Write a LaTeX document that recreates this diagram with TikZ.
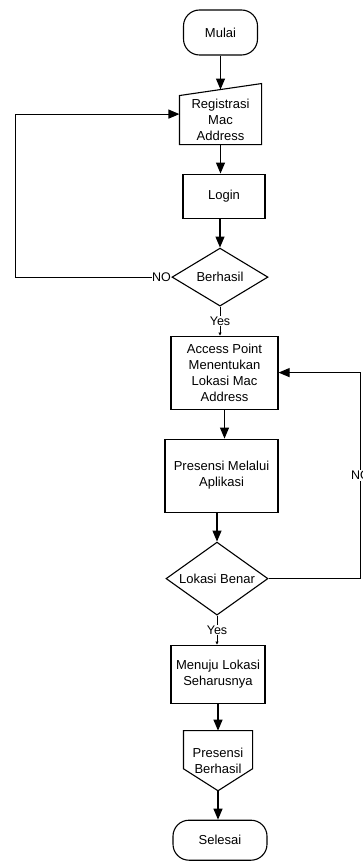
\documentclass[tikz,border=0pt]{standalone}
\usepackage{fontspec}
\setmainfont{Liberation Sans}
\usepackage{tikz}
\usetikzlibrary{positioning,arrows.meta,shapes.geometric}

\begin{document}
\begin{tikzpicture}[node distance=28.9pt,line width=1.1pt,
    font=\fontsize{13}{16}\selectfont]
  \tikzstyle{terminal}=[draw,rectangle,rounded corners=16pt,align=center]
  \tikzstyle{process}=[draw,rectangle,align=center,inner sep=2pt]
  \tikzstyle{decision}=[draw,diamond,aspect=1.4,inner sep=0pt,align=center]
  \tikzstyle{outline}=[rectangle,align=center,inner sep=0pt]
  \tikzstyle{flow}=[-{Triangle[length=11pt,width=9pt]}]
  \tikzstyle{answer}=[line width=0.8pt,-{Triangle[length=3pt,width=3pt]}]
  \tikzstyle{tag}=[fill=white,inner sep=1pt,font=\fontsize{12.5}{14}\selectfont]
  \useasboundingbox (0,0) rectangle (362pt,-861pt);

  \node[terminal,minimum width=74pt,minimum height=45pt] (mulai) at (220.5pt,-32.5pt) {Mulai};
  \node[outline,minimum width=81pt,minimum height=48pt] (reg) [below=40pt of mulai] {Registrasi\\Mac\\Address};
  \node[process,minimum width=82pt,minimum height=44pt] (login) [below=of reg,xshift=3.5pt] {Login};
  \node[decision,minimum width=96pt,minimum height=58pt] (berhasil) [below=of login,xshift=-4pt] {Berhasil};
  \node[process,minimum width=107pt,minimum height=73pt] (ap) [below=of berhasil,xshift=4.5pt] {Access Point\\Menentukan\\Lokasi Mac\\Address};
  \node[process,minimum width=113pt,minimum height=73pt] (presensi) [below=of ap,xshift=-3pt] {Presensi Melalui\\Aplikasi};
  \node[decision,minimum width=102pt,minimum height=73pt] (lokasi) [below=of presensi,xshift=-4.5pt] {Lokasi Benar};
  \node[process,minimum width=94pt,minimum height=58pt] (menuju) [below=of lokasi,xshift=1pt] {Menuju Lokasi\\Seharusnya};
  \node[outline,minimum width=68pt,minimum height=59pt] (pb) [below=27pt of menuju] {Presensi\\Berhasil};
  \node[terminal,minimum width=94pt,minimum height=40pt] (selesai) [below=of pb,xshift=2pt] {Selesai};

  % manual input and off-page outlines
  \draw (reg.south west) -- (reg.south east) -- ([yshift=12pt]reg.north east) -- (reg.north west) -- cycle;
  \draw (pb.north west) -- (pb.north east) -- ([yshift=22pt]pb.south east) -- (pb.south)
    -- ([yshift=22pt]pb.south west) -- cycle;

  \draw[flow] (mulai.south) -- ([yshift=6pt]reg.north);
  \draw[flow] (reg.south) -- (reg.south |- login.north);
  \draw[flow] (berhasil.north |- login.south) -- (berhasil.north);
  \draw[answer] (berhasil.south) -- node[tag] {Yes} (berhasil.south |- ap.north);
  \draw[flow] (ap.south) -- (ap.south |- presensi.north);
  \draw[flow] (lokasi.north |- presensi.south) -- (lokasi.north);
  \draw[answer] (lokasi.south) -- node[tag] {Yes} (lokasi.south |- menuju.north);
  \draw[flow] (menuju.south) -- (menuju.south |- pb.north);
  \draw[flow] (pb.south) -- (pb.south |- selesai.north);

  \draw[flow] (berhasil.west) -- node[tag,pos=0,anchor=east,inner sep=0pt] {NO} ++(-156pt,0)
    |- ([yshift=6pt]reg.west);
  \draw[flow] (lokasi.east) -- ++(92pt,0) |- node[tag,pos=0.25] {NO} (ap.east);
\end{tikzpicture}
\end{document}
